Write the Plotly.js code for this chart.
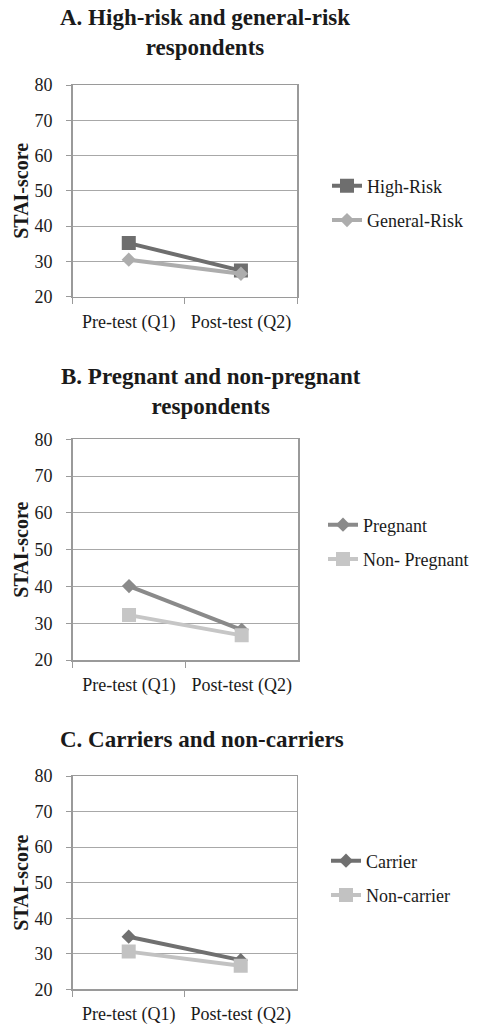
<!DOCTYPE html>
<html>
<head>
<meta charset="utf-8">
<script src="https://cdn.plot.ly/plotly-3.0.1.min.js"></script>
<style>body{margin:0;padding:0;background:#fff}#chart{width:480px;height:1024px}</style>
</head>
<body>
<div id="chart"></div>
<script>
// ---- data ----
const categories = ["Pre-test (Q1)", "Post-test (Q2)"];
const yTicks = [20, 30, 40, 50, 60, 70, 80];

const panelTitles = ["A. High-risk and general-risk<br>respondents",
                     "B. Pregnant and non-pregnant<br>respondents",
                     "C. Carriers and non-carriers"];
const yTitle = "STAI-score";

const highRisk = [35.2, 27.4];
const generalRisk = [30.5, 26.5];
const pregnant = [40.1, 28.2];
const nonPregnant = [32.2, 26.7];
const carrier = [34.8, 28.2];
const nonCarrier = [30.6, 26.6];

const seriesNames = [["High-Risk", "General-Risk"], ["Pregnant", "Non- Pregnant"], ["Carrier", "Non-carrier"]];
const seriesValues = [[highRisk, generalRisk], [pregnant, nonPregnant], [carrier, nonCarrier]];

// ---- styles ----
const W = 480, H = 1024;
const FONT = "'Liberation Serif', 'Times New Roman', serif";
const styles = [
  [{color: "#6e6e6e", symbol: "square"}, {color: "#adadad", symbol: "diamond"}],
  [{color: "#8a8a8a", symbol: "diamond"}, {color: "#c6c6c6", symbol: "square"}],
  [{color: "#707070", symbol: "diamond"}, {color: "#c2c2c2", symbol: "square"}]
];
// pixel layout per panel
const panels = [
  {x0: 72.7, x1: 297, top: 85, bottom: 296.7, titleX: 205, titleY: 32, legX: 327, legY: 203},
  {x0: 72.7, x1: 298, top: 439.3, bottom: 660, titleX: 211, titleY: 391.5, legX: 323, legY: 542},
  {x0: 72.7, x1: 296.7, top: 776, bottom: 989.3, titleX: 202, titleY: 739, legX: 326, legY: 878}
];
const px = v => v / W;
const py = v => 1 - v / H;

const data = [];
const layout = {
  width: W, height: H,
  margin: {l: 0, r: 0, t: 0, b: 0},
  paper_bgcolor: "#fff", plot_bgcolor: "#fff",
  font: {family: FONT, size: 18, color: "#1a1a1a"},
  showlegend: true,
  annotations: []
};

panels.forEach((p, i) => {
  const sfx = i === 0 ? "" : String(i + 1);
  const xa = "x" + sfx, ya = "y" + sfx;
  const legName = "legend" + sfx;
  seriesValues[i].forEach((vals, j) => {
    const isSq = styles[i][j].symbol === "square";
    data.push({
      type: "scatter", mode: "lines+markers",
      x: categories, y: vals,
      name: seriesNames[i][j],
      xaxis: xa, yaxis: ya,
      legend: legName,
      legendgroup: "g" + i + "_" + j,
      line: {color: styles[i][j].color, width: 4},
      marker: {color: styles[i][j].color, symbol: styles[i][j].symbol, size: isSq ? 14 : 11},
      hoverinfo: "skip"
    });
  });
  layout["xaxis" + sfx] = {
    domain: [px(p.x0), px(p.x1)],
    anchor: ya,
    type: "category",
    range: [-0.5, 1.5],
    tickson: "boundaries",
    ticks: "outside", ticklen: 6, tickcolor: "#9a9a9a", tickwidth: 1,
    showline: true, linecolor: "#9a9a9a", linewidth: 1.5, mirror: true,
    showgrid: false, zeroline: false,
    ticklabelstandoff: 8,
    tickfont: {family: FONT, size: 18, color: "#1a1a1a"},
    fixedrange: true
  };
  layout["yaxis" + sfx] = {
    domain: [py(p.bottom), py(p.top)],
    anchor: xa,
    range: [20, 80],
    tickvals: yTicks,
    ticks: "outside", ticklen: 5, tickcolor: "#9a9a9a", tickwidth: 1,
    showline: true, linecolor: "#9a9a9a", linewidth: 1.5, mirror: true,
    showgrid: true, gridcolor: "#a8a8a8", gridwidth: 1,
    zeroline: false,
    ticklabelstandoff: 10,
    tickfont: {family: FONT, size: 18, color: "#1a1a1a"},
    fixedrange: true
  };
  layout[legName] = {
    x: px(p.legX), y: py(p.legY),
    xanchor: "left", yanchor: "middle",
    xref: "paper", yref: "paper",
    bgcolor: "rgba(0,0,0,0)",
    font: {family: FONT, size: 18, color: "#1a1a1a"},
    traceorder: "grouped",
    tracegroupgap: 8,
    itemwidth: 30
  };
  layout.annotations.push({
    text: "<b>" + panelTitles[i] + "</b>",
    xref: "paper", yref: "paper",
    x: px(p.titleX), y: py(p.titleY),
    xanchor: "center", yanchor: "middle",
    showarrow: false, align: "center",
    font: {family: FONT, size: 23, color: "#1a1a1a"}
  });
  layout.annotations.push({
    text: "<b>" + yTitle + "</b>",
    xref: "paper", yref: "paper",
    x: px(21), y: py((p.top + p.bottom) / 2),
    xanchor: "center", yanchor: "middle",
    textangle: -90, showarrow: false,
    font: {family: FONT, size: 20, color: "#1a1a1a"}
  });
});

Plotly.newPlot("chart", data, layout, {staticPlot: true, displayModeBar: false});
</script>
</body>
</html>
